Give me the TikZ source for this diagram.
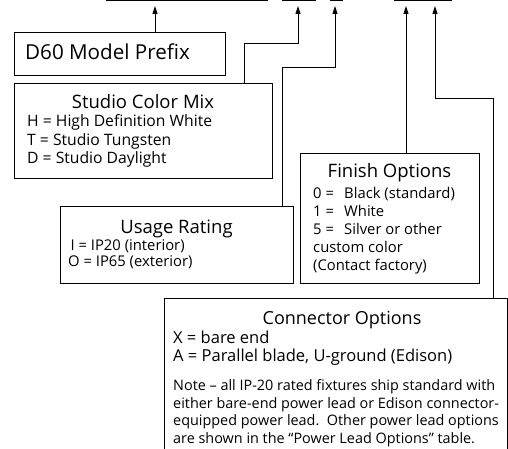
\documentclass[tikz,border=0pt]{standalone}
\usepackage{fontspec}
\setmainfont{Open Sans}
\usetikzlibrary{arrows.meta,positioning}

\tikzset{
  box/.style={draw, line width=1.1pt, inner sep=0pt, anchor=north west},
  wire/.style={line width=0.8pt},
  tip/.style={-{Triangle[length=8pt,width=5pt]}},
  head/.style={font=\fontsize{18.5}{20}\selectfont, inner sep=0pt, anchor=base},
  body/.style={font=\fontsize{14.8}{18.5}\selectfont, inner sep=0pt, align=left, anchor=base west},
}
\newcommand{\code}[1]{\makebox[31pt][l]{#1}}

\begin{document}
\begin{tikzpicture}[x=1pt,y=-1pt]
  \useasboundingbox (0,0) rectangle (508,449);

  % blanks of the model number
  \draw[line width=1.2pt] (106,0.6) -- (268,0.6);
  \draw[line width=1.2pt] (282,0.6) -- (316,0.6);
  \draw[line width=1.2pt] (330,0.6) -- (343,0.6);
  \draw[line width=1.2pt] (394,0.6) -- (452,0.6);
  \coordinate (b1) at (155,6);
  \coordinate (b2) at (298,6);
  \coordinate (b3) at (335,6);
  \coordinate (b4) at (406,6);
  \coordinate (b5) at (435,6);

  % boxes
  \node[box, minimum width=211pt, minimum height=43pt] (prefix) at (14,32) {};
  \node[box, minimum width=258pt, minimum height=95pt] (color) at (14,83) {};
  \node[box, minimum width=233pt, minimum height=77pt] (usage) at (60,206) {};
  \node[box, minimum width=179pt, minimum height=130pt] (finish) at (300,153) {};
  \node[box, minimum width=343pt, minimum height=180pt] (conn) at (164,298) {};

  % texts (lists sit on the baseline of their last line)
  \node[head, anchor=base west, font=\fontsize{20.6}{22}\selectfont] (prefixtxt) at (25,60) {D60 Model Prefix};

  \node[head] (colortitle) at (143,109) {Studio Color Mix};
  \node[body, font=\fontsize{15.7}{18.7}\selectfont] (colorlist) at (27,164) {H = High Definition White\\T = Studio Tungsten\\D = Studio Daylight};

  \node[head] (usagetitle) at (176.5,233) {Usage Rating};
  \node[body, font=\fontsize{14.8}{16.5}\selectfont] (usagelist) at (68,266.5) {\,I = IP20 (interior)\\O = IP65 (exterior)};

  \node[head] (finishtitle) at (389.5,178) {Finish Options};
  \node[body, font=\fontsize{14.8}{18}\selectfont] (finishlist) at (313,270) {\code{0 =}Black (standard)\\\code{1 =}White\\\code{5 =}Silver or other\\custom color\\(Contact factory)};

  \node[head, font=\fontsize{18}{20}\selectfont] (conntitle) at (342,324) {Connector Options};
  \node[body, font=\fontsize{16.5}{18.5}\selectfont] (connlist) at (173,361.5) {X = bare end\\A = Parallel blade, U-ground (Edison)};
  \node[body, font=\fontsize{14.4}{17.5}\selectfont] (connnote) at (173,443) {Note -- all IP-20 rated fixtures ship standard with\\either bare-end power lead or Edison connector-\\equipped power lead.\ \ Other power lead options\\are shown in the “Power Lead Options” table.};

  % connectors
  \coordinate (k2) at (244,43);
  \coordinate (k3) at (282,67);
  \coordinate (k5) at (493,98);
  \draw[wire, tip] (b1 |- prefix.north) -- (b1);
  \draw[wire, tip] (k2 |- color.north) -- (k2) -| (b2);
  \draw[wire, tip] (k3 |- usage.north) -- (k3) -| (b3);
  \draw[wire, tip] (b4 |- finish.north) -- (b4);
  \draw[wire, tip] (k5 |- conn.north) -- (k5) -| (b5);
\end{tikzpicture}
\end{document}
